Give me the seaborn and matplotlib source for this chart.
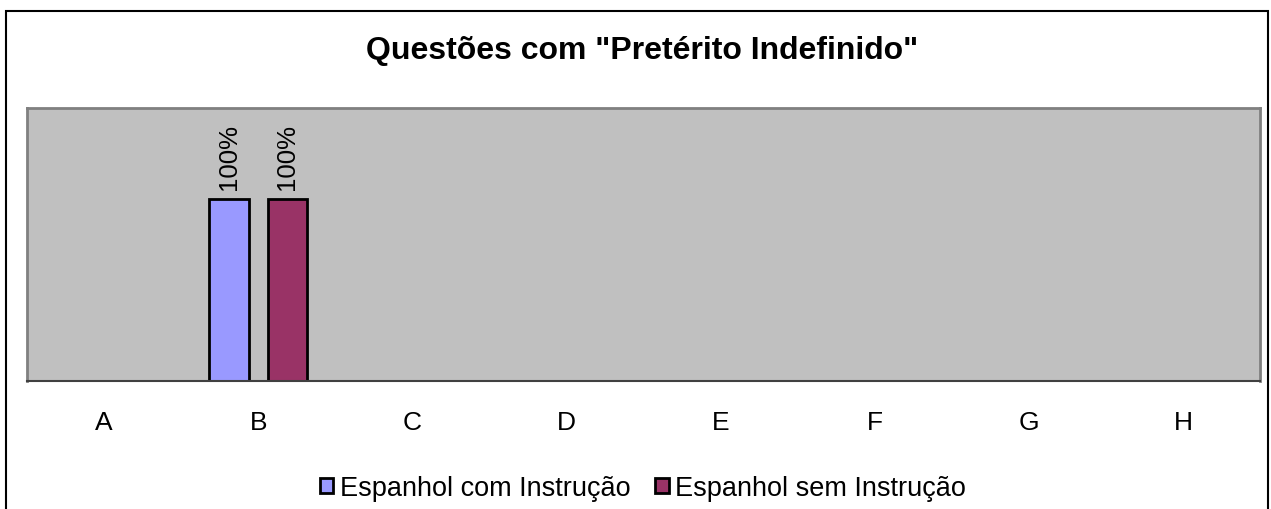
import matplotlib
matplotlib.use("Agg")
import matplotlib.pyplot as plt
import pandas as pd
import seaborn as sns
from matplotlib.patches import Rectangle

# data
categories = ['A', 'B', 'C', 'D', 'E', 'F', 'G', 'H']
series_names = ['Espanhol com Instrução', 'Espanhol sem Instrução']
com_instrucao = [None, 1.0, None, None, None, None, None, None]
sem_instrucao = [None, 1.0, None, None, None, None, None, None]
colors = ['#9999FF', '#993366']

rows = []
for name, vals in zip(series_names, [com_instrucao, sem_instrucao]):
    for cat, v in zip(categories, vals):
        if v is not None:
            rows.append({'questao': cat, 'serie': name, 'valor': v})
df = pd.DataFrame(rows)

sns.set_style('white')
plt.rcParams['font.family'] = ['Liberation Sans', 'DejaVu Sans']
plt.rcParams['text.color'] = 'black'
plt.rcParams['xtick.color'] = 'black'

fig = plt.figure(figsize=(12.71, 5.10), dpi=100)
ax = fig.add_axes([27 / 1271, 1 - 382 / 510, (1260 - 27) / 1271, (382 - 109) / 510])
ax.set_facecolor('#C0C0C0')

sns.barplot(data=df, x='questao', y='valor', hue='serie', order=categories,
            hue_order=series_names, palette=colors, width=0.76, gap=0.33,
            edgecolor='black', linewidth=2, saturation=1, ax=ax, legend=True)

for cont in ax.containers:
    labels = [f'{v * 100:.0f}%' for v in cont.datavalues]
    ax.bar_label(cont, labels=labels, rotation=90, padding=7, fontsize=18.5, color='black')

ax.set_xlim(-0.5, len(categories) - 0.5)
ax.set_ylim(0, 1.5)
ax.set_yticks([])
ax.set_xlabel('')
ax.set_ylabel('')

ax.set_xticks(range(len(categories)))
ax.set_xticklabels(categories, fontsize=19, color='black')
ax.set_xticks([i - 0.5 for i in range(len(categories) + 1)], minor=True)
ax.tick_params(axis='x', which='major', length=0, pad=21)
ax.tick_params(axis='x', which='minor', length=8, width=1.2, color='#404040', direction='out')

for side in ['top', 'left', 'right']:
    ax.spines[side].set_visible(True)
    ax.spines[side].set_color('#808080')
    ax.spines[side].set_linewidth(2)
ax.spines['bottom'].set_color('#404040')
ax.spines['bottom'].set_linewidth(1.5)

leg = ax.legend(loc='center', bbox_to_anchor=(643 / 1271, 1 - 489 / 510), bbox_transform=fig.transFigure,
                ncol=2, frameon=False, fontsize=19.5, handlelength=0.5, handleheight=0.45,
                handletextpad=0.25, columnspacing=0.9)
for h in leg.legend_handles:
    h.set_edgecolor('black')
    h.set_linewidth(2)

fig.text(642 / 1271, 1 - 51 / 510, 'Questões com "Pretérito Indefinido"', ha='center', va='center',
         fontsize=23, fontweight='bold', color='black')

# outer chart border
fig.patches.append(Rectangle((6 / 1271, -0.1), (1268 - 6) / 1271, 1 - 12 / 510 + 0.1,
                             transform=fig.transFigure, fill=False, edgecolor='black',
                             linewidth=1.5))

fig.savefig('out.png', dpi=100)
